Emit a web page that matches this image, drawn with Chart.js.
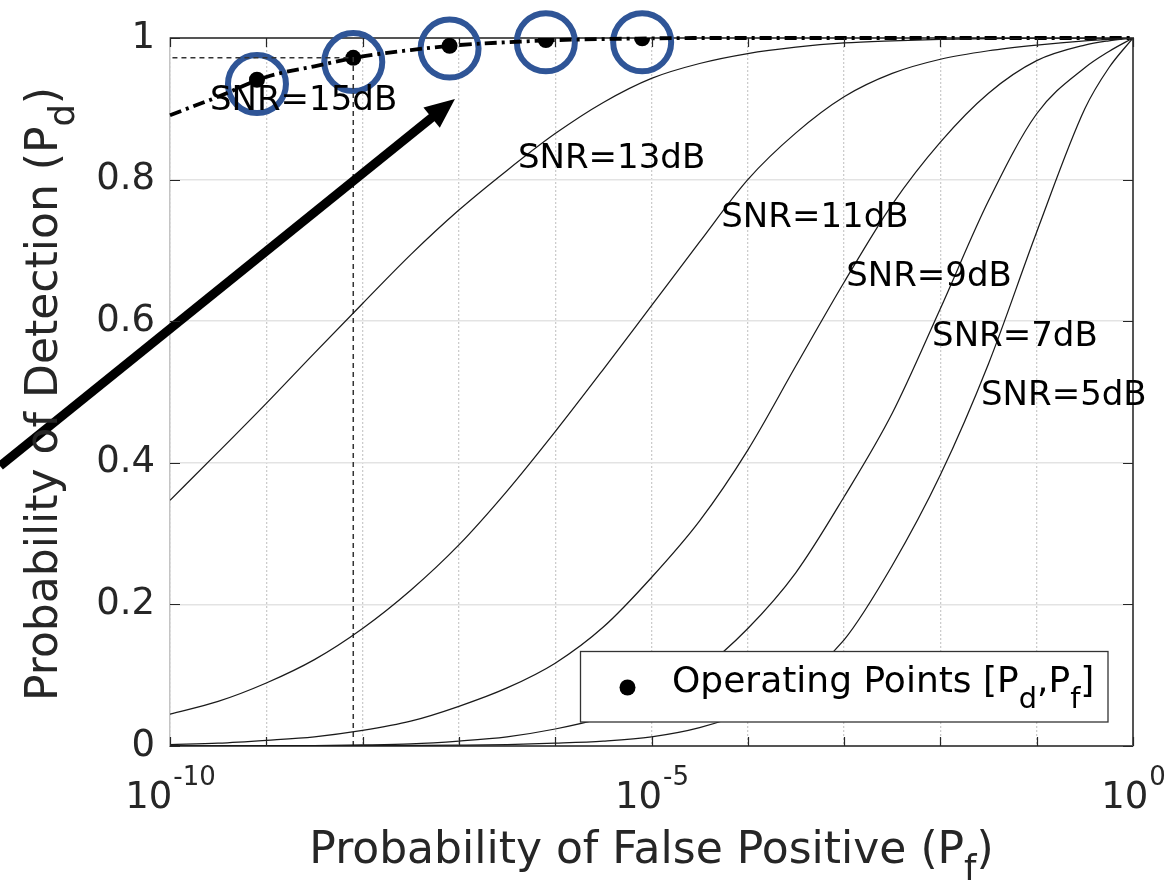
<!DOCTYPE html>
<html><head><meta charset="utf-8">
<script src="https://cdn.jsdelivr.net/npm/chart.js@4.4.1/dist/chart.umd.min.js"></script>
<style>html,body{margin:0;padding:0;background:#fff;}canvas{display:block;}</style>
</head><body>
<canvas id="c" width="1168" height="881"></canvas>
<script>
// ---- data ----
const pfGrid = [1e-10, 3.16e-10, 1e-9, 3.16e-9, 1e-8, 3.16e-8, 1e-7, 3.16e-7, 1e-6, 3.16e-6,
                1e-5, 3.16e-5, 1e-4, 3.16e-4, 1e-3, 3.16e-3, 1e-2, 3.16e-2, 1e-1, 3.16e-1, 5.62e-1, 1];
const pd15 = [0.891, 0.917, 0.945, 0.960, 0.974, 0.983, 0.990, 0.994, 0.997, 0.9985, 0.9995, 1, 1, 1, 1, 1, 1, 1, 1, 1, 1, 1];
const pd13 = [0.347, 0.415, 0.484, 0.555, 0.625, 0.694, 0.757, 0.813, 0.865, 0.909, 0.943, 0.964, 0.978, 0.987, 0.993, 0.996, 0.998, 0.999, 1.0, 1.0, 1.0, 1];
const pd11 = [0.045, 0.063, 0.089, 0.122, 0.166, 0.220, 0.284, 0.360, 0.444, 0.532, 0.622, 0.712, 0.800, 0.866, 0.917, 0.950, 0.970, 0.982, 0.990, 0.996, 0.998, 1];
const pd9  = [0.002, 0.004, 0.008, 0.013, 0.022, 0.035, 0.056, 0.082, 0.117, 0.168, 0.238, 0.318, 0.418, 0.537, 0.655, 0.765, 0.853, 0.922, 0.968, 0.990, 0.996, 1];
const pd7  = [0.0001, 0.0002, 0.0004, 0.0007, 0.0015, 0.003, 0.007, 0.013, 0.024, 0.040, 0.065, 0.106, 0.166, 0.245, 0.352, 0.470, 0.618, 0.770, 0.893, 0.958, 0.981, 1];
const pd5  = [0, 0.0001, 0.0002, 0.0003, 0.0005, 0.0008, 0.0012, 0.002, 0.004, 0.007, 0.013, 0.026, 0.049, 0.090, 0.150, 0.255, 0.383, 0.540, 0.726, 0.900, 0.958, 1];

const opPf = [8e-10, 8e-9, 8e-8, 8e-7, 8e-6];
const opPd = [0.941, 0.972, 0.989, 0.997, 0.9995];
const circlePd = [0.935, 0.966, 0.985, 0.994, 0.994];

const refLinePf = [8e-9, 8e-9, 1e-10];
const refLinePd = [0, 0.972, 0.972];

const snrLabels = ['SNR=15dB', 'SNR=13dB', 'SNR=11dB', 'SNR=9dB', 'SNR=7dB', 'SNR=5dB'];
const snrLabelPf = [2.6e-10, 4.1e-7, 5.3e-5, 1.05e-3, 8.2e-3, 2.64e-2];
const snrLabelPd = [0.898, 0.8164, 0.733, 0.65, 0.565, 0.4816];

const arrowFrom = [1.72e-12, 0.3955];
const arrowTo = [9.1e-8, 0.914];

const xDecades = [1e-10, 1e-9, 1e-8, 1e-7, 1e-6, 1e-5, 1e-4, 1e-3, 1e-2, 1e-1, 1];
const xTickExp = [-10, -5, 0];
const yTicks = [0, 0.2, 0.4, 0.6, 0.8, 1];
const yTickLabels = ['0', '0.2', '0.4', '0.6', '0.8', '1'];

const xTitle = [['Probability of False Positive (P', false], ['f', true], [')', false]];
const yTitle = [['Probability of Detection (P', false], ['d', true], [')', false]];
const legendText = [['Operating Points [P', false], ['d', true], [',P', false], ['f', true], [']', false]];

// ---- helpers ----
const FONT = "'DejaVu Sans', sans-serif";
const TXT = '#262626';
const pts = (xs, ys) => xs.map((x, i) => ({x: x, y: ys[i]}));

function drawRich(ctx, parts, x, y, size, align, subScale, subOffset) {
  const subSize = size * subScale, off = size * subOffset;
  const widths = parts.map(([t, s]) => { ctx.font = (s ? subSize : size) + 'px ' + FONT; return ctx.measureText(t).width; });
  const total = widths.reduce((a, b) => a + b, 0);
  let cx = align === 'center' ? x - total / 2 : x;
  ctx.textAlign = 'left';
  ctx.textBaseline = 'alphabetic';
  parts.forEach(([t, s], i) => {
    ctx.font = (s ? subSize : size) + 'px ' + FONT;
    ctx.fillText(t, cx, s ? y + off : y);
    cx += widths[i];
  });
}

const curveStyle = {borderColor: '#1a1a1a', borderWidth: 1.25, pointRadius: 0, fill: false, cubicInterpolationMode: 'monotone'};

const overlay = {
  id: 'overlay',
  beforeDatasetsDraw(chart) {
    const ctx = chart.ctx, a = chart.chartArea;
    ctx.save();
    ctx.strokeStyle = '#555';
    ctx.lineWidth = 2;
    ctx.beginPath();
    ctx.moveTo(a.left, a.top); ctx.lineTo(a.right, a.top); ctx.lineTo(a.right, a.bottom);
    ctx.stroke();
    ctx.restore();
  },
  afterDatasetsDraw(chart) {
    const ctx = chart.ctx, xs = chart.scales.x, ys = chart.scales.y, a = chart.chartArea;
    ctx.save();
    // legend box
    const lx0 = 580.5, lx1 = a.right - 25, ly0 = 651.5, ly1 = a.bottom - 24;
    ctx.fillStyle = '#fff';
    ctx.fillRect(lx0, ly0, lx1 - lx0, ly1 - ly0);
    ctx.strokeStyle = '#333';
    ctx.lineWidth = 1.3;
    ctx.strokeRect(lx0, ly0, lx1 - lx0, ly1 - ly0);
    ctx.fillStyle = '#000';
    ctx.beginPath();
    ctx.arc(627.5, 687.5, 8, 0, Math.PI * 2);
    ctx.fill();
    drawRich(ctx, legendText, 672, 691.5, 36, 'left', 0.8, 0.45);

    // SNR labels
    ctx.fillStyle = '#000';
    ctx.font = '34px ' + FONT;
    ctx.textAlign = 'left';
    ctx.textBaseline = 'alphabetic';
    snrLabels.forEach((t, i) => {
      ctx.fillText(t, xs.getPixelForValue(snrLabelPf[i]), ys.getPixelForValue(snrLabelPd[i]));
    });

    // arrow
    const x0 = xs.getPixelForValue(arrowFrom[0]), y0 = ys.getPixelForValue(arrowFrom[1]);
    const x1 = xs.getPixelForValue(arrowTo[0]), y1 = ys.getPixelForValue(arrowTo[1]);
    const ang = Math.atan2(y1 - y0, x1 - x0), c = Math.cos(ang), s = Math.sin(ang);
    const headL = 30, headW = 13;
    const bx = x1 - headL * c, by = y1 - headL * s;
    ctx.strokeStyle = '#000';
    ctx.lineWidth = 9;
    ctx.beginPath(); ctx.moveTo(x0, y0); ctx.lineTo(bx + 2 * c, by + 2 * s); ctx.stroke();
    ctx.fillStyle = '#000';
    ctx.beginPath();
    ctx.moveTo(x1, y1);
    ctx.lineTo(bx + headW * s, by - headW * c);
    ctx.lineTo(bx - headW * s, by + headW * c);
    ctx.closePath(); ctx.fill();
    ctx.restore();
  },
  afterDraw(chart) {
    const ctx = chart.ctx, xs = chart.scales.x, ys = chart.scales.y, a = chart.chartArea;
    ctx.save();
    // inward tick marks
    ctx.strokeStyle = '#262626';
    ctx.lineWidth = 1.2;
    ctx.beginPath();
    yTicks.forEach(v => {
      const y = Math.round(ys.getPixelForValue(v)) + 0.5;
      ctx.moveTo(a.left, y); ctx.lineTo(a.left + 10, y);
      ctx.moveTo(a.right, y); ctx.lineTo(a.right - 10, y);
    });
    xDecades.forEach(v => {
      const x = Math.round(xs.getPixelForValue(v)) + 0.5;
      ctx.moveTo(x, a.bottom); ctx.lineTo(x, a.bottom - 9);
      ctx.moveTo(x, a.top); ctx.lineTo(x, a.top + 9);
    });
    ctx.stroke();
    // x tick labels 10^n
    ctx.fillStyle = TXT;
    ctx.textBaseline = 'alphabetic';
    ctx.textAlign = 'left';
    xTickExp.forEach(e => {
      const px = xs.getPixelForValue(Math.pow(10, e));
      const base = '10', ex = String(e);
      ctx.font = '37px ' + FONT; const w1 = ctx.measureText(base).width;
      ctx.font = '26px ' + FONT; const w2 = ctx.measureText(ex).width;
      const start = px - (w1 + w2) / 2;
      ctx.font = '37px ' + FONT; ctx.fillText(base, start, 808);
      ctx.font = '26px ' + FONT; ctx.fillText(ex, start + w1 + 1, 785);
    });
    // axis titles
    drawRich(ctx, xTitle, (a.left + a.right) / 2, 863, 44, 'center', 0.8, 0.38);
    ctx.translate(57, (a.top + a.bottom) / 2 + 2);
    ctx.rotate(-Math.PI / 2);
    drawRich(ctx, yTitle, 0, 0, 44, 'center', 0.8, 0.38);
    ctx.restore();
  }
};

new Chart(document.getElementById('c'), {
  type: 'line',
  data: {
    datasets: [
      Object.assign({label: 'SNR=5dB', data: pts(pfGrid, pd5)}, curveStyle),
      Object.assign({label: 'SNR=7dB', data: pts(pfGrid, pd7)}, curveStyle),
      Object.assign({label: 'SNR=9dB', data: pts(pfGrid, pd9)}, curveStyle),
      Object.assign({label: 'SNR=11dB', data: pts(pfGrid, pd11)}, curveStyle),
      Object.assign({label: 'SNR=13dB', data: pts(pfGrid, pd13)}, curveStyle),
      {label: 'ref', data: pts(refLinePf, refLinePd), borderColor: '#333', borderWidth: 1.5, borderDash: [5, 4], pointRadius: 0, fill: false, tension: 0},
      {label: 'SNR=15dB', data: pts(pfGrid, pd15), borderColor: '#000', borderWidth: 3.8, borderDash: [12, 5, 3, 5], pointRadius: 0, fill: false, cubicInterpolationMode: 'monotone', clip: 4},
      {label: 'Operating Points', data: pts(opPf, opPd), showLine: false, pointRadius: 8, pointBackgroundColor: '#000', pointBorderWidth: 0, borderColor: '#000'},
      {label: 'circles', data: pts(opPf, circlePd), showLine: false, pointRadius: 29, pointBackgroundColor: 'rgba(0,0,0,0)', pointBorderColor: '#2f5597', pointBorderWidth: 6, clip: false}
    ]
  },
  options: {
    responsive: false,
    animation: false,
    events: [],
    layout: {padding: {left: 0, top: 38, right: 35, bottom: 0}},
    plugins: {legend: {display: false}, tooltip: {enabled: false}},
    scales: {
      x: {
        type: 'logarithmic', min: 1e-10, max: 1,
        afterBuildTicks: (ax) => { ax.ticks = xDecades.map(v => ({value: v})); },
        afterFit: (ax) => { ax.height = 135; },
        ticks: {display: false},
        grid: {color: '#cccccc', lineWidth: 1.3, drawTicks: false},
        border: {display: true, color: '#555', width: 2, dash: [2, 2]}
      },
      y: {
        type: 'linear', min: 0, max: 1,
        afterBuildTicks: (ax) => { ax.ticks = yTicks.map(v => ({value: v})); },
        afterFit: (ax) => { ax.width = 170; },
        ticks: {color: TXT, font: {family: FONT, size: 37}, padding: 15,
                callback: (v, i) => yTickLabels[i]},
        grid: {color: '#e3e3e3', lineWidth: 1.5, drawTicks: false},
        border: {display: true, color: '#c4c4c4', width: 1.5}
      }
    }
  },
  plugins: [overlay]
});
</script>
</body></html>
